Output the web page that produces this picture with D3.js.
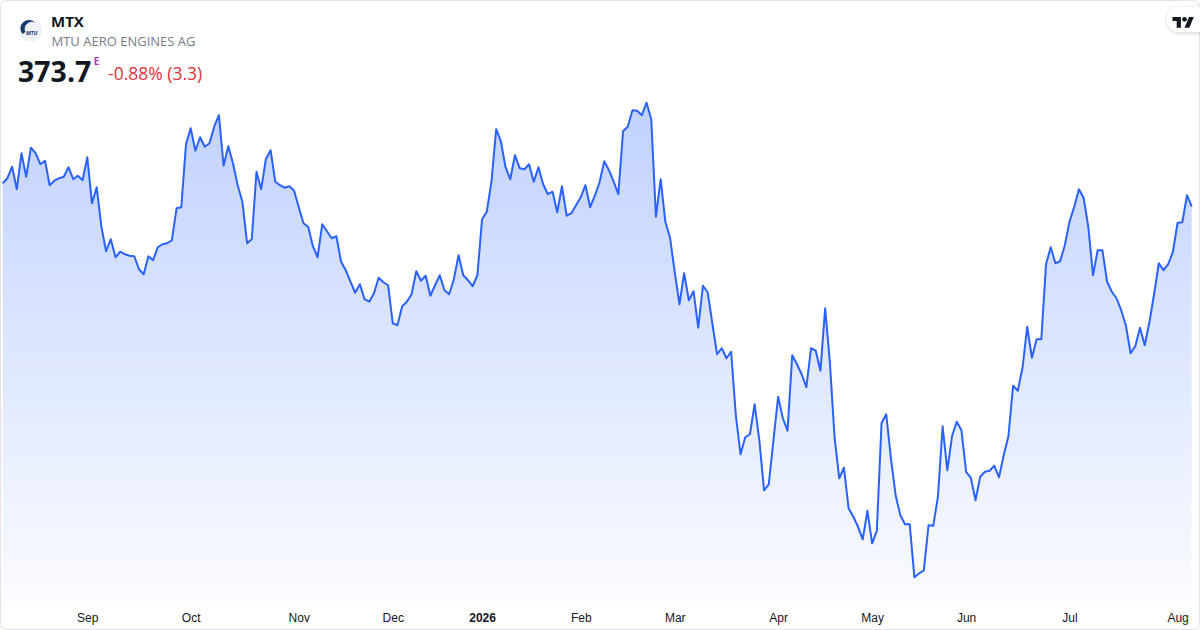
<!DOCTYPE html>
<html>
<head>
<meta charset="utf-8">
<script src="https://cdn.jsdelivr.net/npm/d3@7"></script>
<style>
    html, body { margin: 0; padding: 0; background: #ffffff; }
    svg { display: block; font-family: "Open Sans", "Noto Sans", sans-serif; }
    .axis text { font-size: 12px; fill: #131722; }
</style>
</head>
<body>
<svg id="chart" width="1200" height="630"></svg>
<script>

var symbol = 'MTX';
var companyName = 'MTU AERO ENGINES AG';
var lastPrice = '373.7';
var priceChange = '-0.88% (3.3)';

// daily closes, one per trading day
var prices = [
    378.4, 379.4, 381.7, 377.2, 384.4, 379.7, 385.5, 384.4, 382.2, 382.9,
    378.0, 378.9, 379.4, 379.7, 381.6, 379.2, 379.9, 379.0, 383.6, 374.4,
    377.6, 369.7, 364.8, 367.2, 363.6, 364.7, 364.2, 363.9, 363.8, 361.2,
    360.2, 363.8, 363.0, 365.6, 366.2, 366.4, 367.0, 373.4, 373.6, 386.2,
    389.4, 384.9, 387.6, 385.7, 386.4, 389.7, 392.0, 381.9, 385.8, 382.4,
    378.0, 374.7, 366.4, 367.2, 380.7, 377.2, 383.2, 385.0, 378.7, 378.0,
    377.5, 377.8, 376.9, 373.6, 370.4, 369.7, 365.8, 363.6, 370.2, 368.8,
    367.4, 367.8, 362.7, 361.0, 358.7, 356.5, 358.2, 355.2, 354.7, 356.4,
    359.5, 358.6, 358.0, 350.4, 350.0, 353.8, 354.7, 356.2, 360.8, 358.9,
    359.9, 355.9, 358.0, 360.0, 357.0, 356.2, 359.2, 364.0, 360.0, 359.0,
    357.8, 360.0, 371.2, 372.7, 378.7, 389.2, 386.8, 381.6, 379.2, 384.0,
    381.4, 381.2, 382.2, 378.7, 381.6, 378.2, 376.2, 376.7, 372.6, 377.8,
    371.9, 372.4, 374.0, 375.6, 378.0, 373.6, 375.9, 378.6, 382.8, 381.0,
    378.7, 376.2, 388.8, 389.7, 393.0, 392.9, 392.0, 394.5, 391.2, 371.7,
    379.2, 370.7, 367.5, 360.6, 354.2, 360.4, 355.0, 356.8, 349.5, 357.9,
    356.6, 350.4, 344.2, 345.4, 343.4, 344.7, 332.0, 324.2, 327.6, 328.2,
    334.2, 327.0, 317.0, 318.2, 327.0, 335.7, 331.4, 328.9, 344.0, 342.2,
    340.2, 337.6, 345.4, 344.9, 340.9, 353.4, 342.7, 327.7, 319.4, 321.5,
    313.4, 311.7, 309.7, 307.2, 312.9, 306.4, 308.9, 330.4, 332.2, 323.4,
    316.0, 312.0, 310.2, 310.2, 299.6, 300.4, 301.0, 310.0, 309.9, 315.7,
    329.8, 321.0, 327.8, 330.7, 329.0, 320.7, 319.5, 315.0, 319.7, 320.7,
    320.9, 321.9, 319.6, 324.0, 327.8, 337.9, 336.9, 341.5, 349.7, 343.5,
    347.2, 347.2, 362.2, 365.6, 362.4, 362.8, 366.0, 370.7, 373.7, 377.2,
    375.5, 369.7, 360.0, 365.0, 365.0, 358.7, 356.7, 355.4, 353.0, 349.9,
    344.4, 345.8, 349.5, 346.0, 350.6, 356.2, 362.4, 361.0, 362.2, 364.7,
    370.5, 370.6, 376.0, 373.7
];

// month starts, as position in the series
var tickIndex = [18, 40, 63, 83, 102, 123, 143, 165, 185, 205, 227, 250];
var tickLabels = ['Sep', 'Oct', 'Nov', 'Dec', '2026', 'Feb', 'Mar', 'Apr', 'May', 'Jun', 'Jul', 'Aug'];

d3.select(window).on('load', init);

function init() {
    var svg = d3.select('#chart');

    draw_card(svg);
    draw_header(svg);
    draw_plot(svg);
}

function draw_card(svg) {
    var defs = svg.append('defs');

    defs.append('filter')
        .attr('id', 'shadow')
        .attr('x', '-50%').attr('y', '-50%')
        .attr('width', '200%').attr('height', '200%')
        .append('feDropShadow')
        .attr('dx', 0).attr('dy', 1)
        .attr('stdDeviation', 2)
        .attr('flood-color', '#000')
        .attr('flood-opacity', 0.18);

    var grad = defs.append('linearGradient')
        .attr('id', 'areaFill')
        .attr('gradientUnits', 'userSpaceOnUse')
        .attr('x1', 0).attr('y1', 102)
        .attr('x2', 0).attr('y2', 602);
    grad.append('stop').attr('offset', '0%')
        .attr('stop-color', '#2962ff').attr('stop-opacity', 0.29);
    grad.append('stop').attr('offset', '100%')
        .attr('stop-color', '#2962ff').attr('stop-opacity', 0.02);

    svg.append('rect')
        .attr('x', 0.5).attr('y', 0.5)
        .attr('width', 1199).attr('height', 629)
        .attr('rx', 6)
        .attr('fill', '#ffffff')
        .attr('stroke', '#e0e3eb');

    // TradingView badge, top right
    svg.append('rect')
        .attr('x', 1167).attr('y', 7)
        .attr('width', 46).attr('height', 25)
        .attr('rx', 12.5)
        .attr('fill', '#ffffff')
        .attr('filter', 'url(#shadow)');

    var tv = svg.append('g')
        .attr('transform', 'translate(1172.5,14.5) scale(0.6)')
        .attr('fill', '#131722');
    tv.append('path').attr('d', 'M14 22H7V11H0V4h14v18z');
    tv.append('path').attr('d', 'M28 22h-8l7.5-18h8L28 22z');
    tv.append('circle').attr('cx', 20).attr('cy', 8).attr('r', 4);
}

function draw_header(svg) {
    // company logo
    var logo = svg.append('g').attr('transform', 'translate(30.5,30)');
    logo.append('circle')
        .attr('r', 11.5)
        .attr('fill', '#eef1f7');
    logo.append('path')
        .attr('d', 'M-8,4 A8.5,8.5 0 0 1 5,-7 A7,7 0 0 0 -5,2 Z')
        .attr('fill', '#163a70');
    logo.append('text')
        .attr('x', -4.5).attr('y', 4.5)
        .attr('font-size', 5.5)
        .attr('font-weight', 700)
        .attr('font-style', 'italic')
        .attr('fill', '#163a70')
        .text('MTU');

    svg.append('text')
        .attr('x', 51).attr('y', 26.5)
        .attr('font-size', 15)
        .attr('font-weight', 700)
        .attr('fill', '#131722')
        .text(symbol);

    svg.append('text')
        .attr('x', 51.5).attr('y', 45.5)
        .attr('font-size', 13)
        .attr('fill', '#787b86')
        .text(companyName);

    svg.append('text')
        .attr('x', 18).attr('y', 81.7)
        .attr('font-size', 28.5)
        .attr('font-weight', 700)
        .attr('fill', '#131722')
        .text(lastPrice);

    svg.append('text')
        .attr('x', 93.5).attr('y', 65.3)
        .attr('font-size', 11)
        .attr('font-weight', 700)
        .attr('fill', '#ab47bc')
        .text('E');

    svg.append('text')
        .attr('x', 108).attr('y', 80)
        .attr('font-size', 17.5)
        .attr('fill', '#e0313d')
        .text(priceChange);
}

function draw_plot(svg) {
    var xScale = d3.scaleLinear()
        .domain([0, prices.length - 1])
        .range([2.7, 1191.7]);

    var yScale = d3.scaleLinear()
        .domain(d3.extent(prices))
        .range([577.3, 102.7]);

    var area = d3.area()
        .x(function(d, i){ return xScale(i); })
        .y0(602)
        .y1(function(d){ return yScale(d); });

    var line = d3.line()
        .x(function(d, i){ return xScale(i); })
        .y(function(d){ return yScale(d); });

    svg.append('path')
        .datum(prices)
        .attr('d', area)
        .attr('fill', 'url(#areaFill)');

    svg.append('path')
        .datum(prices)
        .attr('d', line)
        .attr('fill', 'none')
        .attr('stroke', '#2962ff')
        .attr('stroke-width', 2)
        .attr('stroke-linejoin', 'round');

    var xAxis = d3.axisBottom(xScale)
        .tickValues(tickIndex)
        .tickFormat(function(d, i){ return tickLabels[i]; })
        .tickSize(0)
        .tickPadding(0);

    var gx = svg.append('g')
        .attr('class', 'axis x')
        .attr('transform', 'translate(0,613)')
        .call(xAxis);

    gx.select('.domain').remove();
    gx.selectAll('text')
        .attr('font-family', null)
        .attr('font-size', null)
        .attr('fill', null)
        .style('font-weight', function(d, i){
            return tickLabels[i] === '2026' ? 700 : 400;
        });
}
</script>
</body>
</html>
